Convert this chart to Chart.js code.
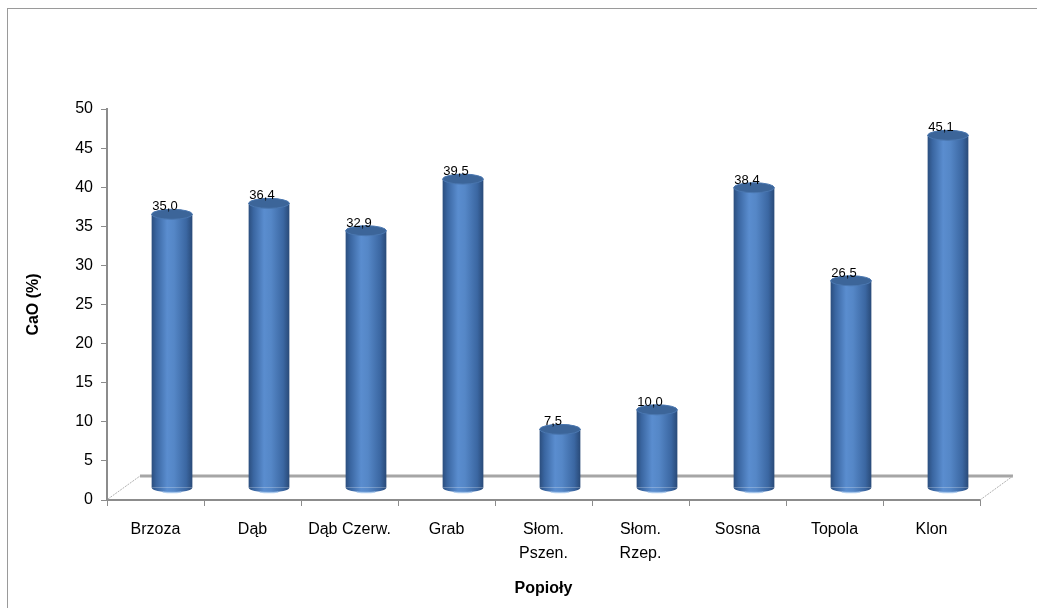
<!DOCTYPE html>
<html>
<head>
<meta charset="utf-8">
<script src="https://cdn.jsdelivr.net/npm/chart.js@4.4.1/dist/chart.umd.min.js"></script>
<style>
  html, body { margin: 0; padding: 0; background: #fff; }
  #wrap { width: 1037px; height: 608px; position: relative; }
</style>
</head>
<body>
<div id="wrap"><canvas id="cao-canvas" width="1037" height="608"></canvas></div>
<script>
// Data
const categories = [
  "Brzoza", "Dąb", "Dąb Czerw.", "Grab",
  ["Słom.", "Pszen."], ["Słom.", "Rzep."],
  "Sosna", "Topola", "Klon",
];
const caoValues = [35.0, 36.4, 32.9, 39.5, 7.5, 10.0, 38.4, 26.5, 45.1];
const yMin = 0;
const yMax = 50;
const yStep = 5;

// 3D look: depth of the floor and bar offset (half of depth)
const DEPTH_X = 33;
const DEPTH_Y = 24;
const BAR_PCT = 0.42;
const FONT = "'Liberation Sans', Arial, sans-serif";

const fmtPl = (v) => v.toFixed(1).replace(".", ",");

// horizontal cylinder shading, computed from the x scale
function cylinderFill(c) {
  const chart = c.chart;
  const xs = chart.scales.x;
  if (!xs || !chart.chartArea) return "#4f81bd";
  const cx = xs.getPixelForValue(c.dataIndex);
  const hw = (xs.width / categories.length) * BAR_PCT / 2;
  const g = chart.ctx.createLinearGradient(cx - hw, 0, cx + hw, 0);
  g.addColorStop(0, "#2b4e7e");
  g.addColorStop(0.12, "#3a66a1");
  g.addColorStop(0.38, "#5a8dcf");
  g.addColorStop(0.55, "#5587c7");
  g.addColorStop(0.85, "#3b67a2");
  g.addColorStop(1, "#294a78");
  return g;
}

const cylinders = {
  id: "cylinders",
  beforeDatasetsDraw(chart) {
    const { ctx, chartArea: a } = chart;
    ctx.save();
    // back edge of the floor
    ctx.strokeStyle = "#a6a6a6";
    ctx.lineWidth = 3;
    ctx.beginPath();
    ctx.moveTo(a.left + DEPTH_X, a.bottom - DEPTH_Y);
    ctx.lineTo(a.right + DEPTH_X, a.bottom - DEPTH_Y);
    ctx.stroke();
    // side edges
    ctx.lineWidth = 1;
    ctx.strokeStyle = "#b0b0b0";
    ctx.setLineDash([2, 1]);
    ctx.beginPath();
    ctx.moveTo(a.left + 1, a.bottom - 1);
    ctx.lineTo(a.left + DEPTH_X, a.bottom - DEPTH_Y);
    ctx.moveTo(a.right, a.bottom);
    ctx.lineTo(a.right + DEPTH_X, a.bottom - DEPTH_Y);
    ctx.stroke();
    ctx.setLineDash([]);
    ctx.restore();
    // bars sit half way into the depth
    ctx.save();
    ctx.translate(DEPTH_X / 2, -DEPTH_Y / 2);
  },
  afterDatasetsDraw(chart) {
    const { ctx } = chart;
    const meta = chart.getDatasetMeta(0);
    meta.data.forEach((bar, i) => {
      const hw = bar.width / 2;
      const ry = 5;
      // bottom rim
      ctx.beginPath();
      ctx.ellipse(bar.x, bar.base, hw, ry, 0, 0, Math.PI);
      ctx.fillStyle = bar.options.backgroundColor;
      ctx.fill();
      ctx.beginPath();
      ctx.ellipse(bar.x, bar.base, hw, ry, 0, Math.PI * 0.35, Math.PI * 0.65);
      ctx.strokeStyle = "rgba(160,195,235,0.8)";
      ctx.lineWidth = 1.5;
      ctx.stroke();
      // top cap
      ctx.beginPath();
      ctx.ellipse(bar.x, bar.y, hw, ry, 0, 0, Math.PI * 2);
      ctx.fillStyle = "#3c6599";
      ctx.fill();
      ctx.strokeStyle = "#4a77b0";
      ctx.lineWidth = 1;
      ctx.stroke();
    });
    ctx.restore();

    // value labels
    ctx.save();
    ctx.font = `13px ${FONT}`;
    ctx.fillStyle = "#000";
    ctx.textAlign = "center";
    ctx.textBaseline = "alphabetic";
    meta.data.forEach((bar, i) => {
      const x = bar.x + DEPTH_X / 2 - 7;
      const y = bar.y - DEPTH_Y / 2 - 4;
      ctx.fillText(fmtPl(caoValues[i]), x, y);
    });
    ctx.restore();
  },
  afterDraw(chart) {
    const { ctx } = chart;
    ctx.save();
    ctx.strokeStyle = "#9a9a9a";
    ctx.lineWidth = 1;
    ctx.strokeRect(7.5, 8.5, 1200, 800);
    ctx.restore();
  },
};

new Chart(document.getElementById("cao-canvas"), {
  type: "bar",
  data: {
    labels: categories,
    datasets: [
      {
        label: "CaO",
        data: caoValues,
        backgroundColor: cylinderFill,
        borderWidth: 0,
        categoryPercentage: 1,
        barPercentage: BAR_PCT,
      },
    ],
  },
  options: {
    responsive: false,
    animation: false,
    layout: { padding: { left: 0, top: 109, right: 57, bottom: 0 } },
    plugins: {
      legend: { display: false },
      tooltip: { enabled: false },
    },
    scales: {
      x: {
        afterFit: (s) => { s.height = 108; },
        grid: {
          offset: true,
          drawOnChartArea: false,
          drawTicks: true,
          tickLength: 6,
          color: "#8c8c8c",
          lineWidth: 1,
        },
        border: { display: true, color: "#8c8c8c", width: 2 },
        ticks: {
          color: "#000",
          font: { family: FONT, size: 16, lineHeight: 1.5 },
          padding: 12,
          maxRotation: 0,
          autoSkip: false,
        },
        title: {
          display: true,
          text: "Popioły",
          color: "#000",
          font: { family: FONT, size: 16, weight: "bold" },
          padding: { top: 0, bottom: 10 },
        },
      },
      y: {
        min: yMin,
        max: yMax,
        afterFit: (s) => { s.width = 107; },
        grid: {
          drawOnChartArea: false,
          drawTicks: true,
          tickLength: 6,
          color: "#8c8c8c",
        },
        border: { display: true, color: "#8c8c8c", width: 2 },
        ticks: {
          stepSize: yStep,
          color: "#000",
          font: { family: FONT, size: 16 },
          padding: 8,
        },
        title: {
          display: true,
          text: "CaO (%)",
          color: "#000",
          font: { family: FONT, size: 16, weight: "bold" },
          padding: { top: 24, bottom: 0 },
        },
      },
    },
  },
  plugins: [cylinders],
});
</script>
</body>
</html>
